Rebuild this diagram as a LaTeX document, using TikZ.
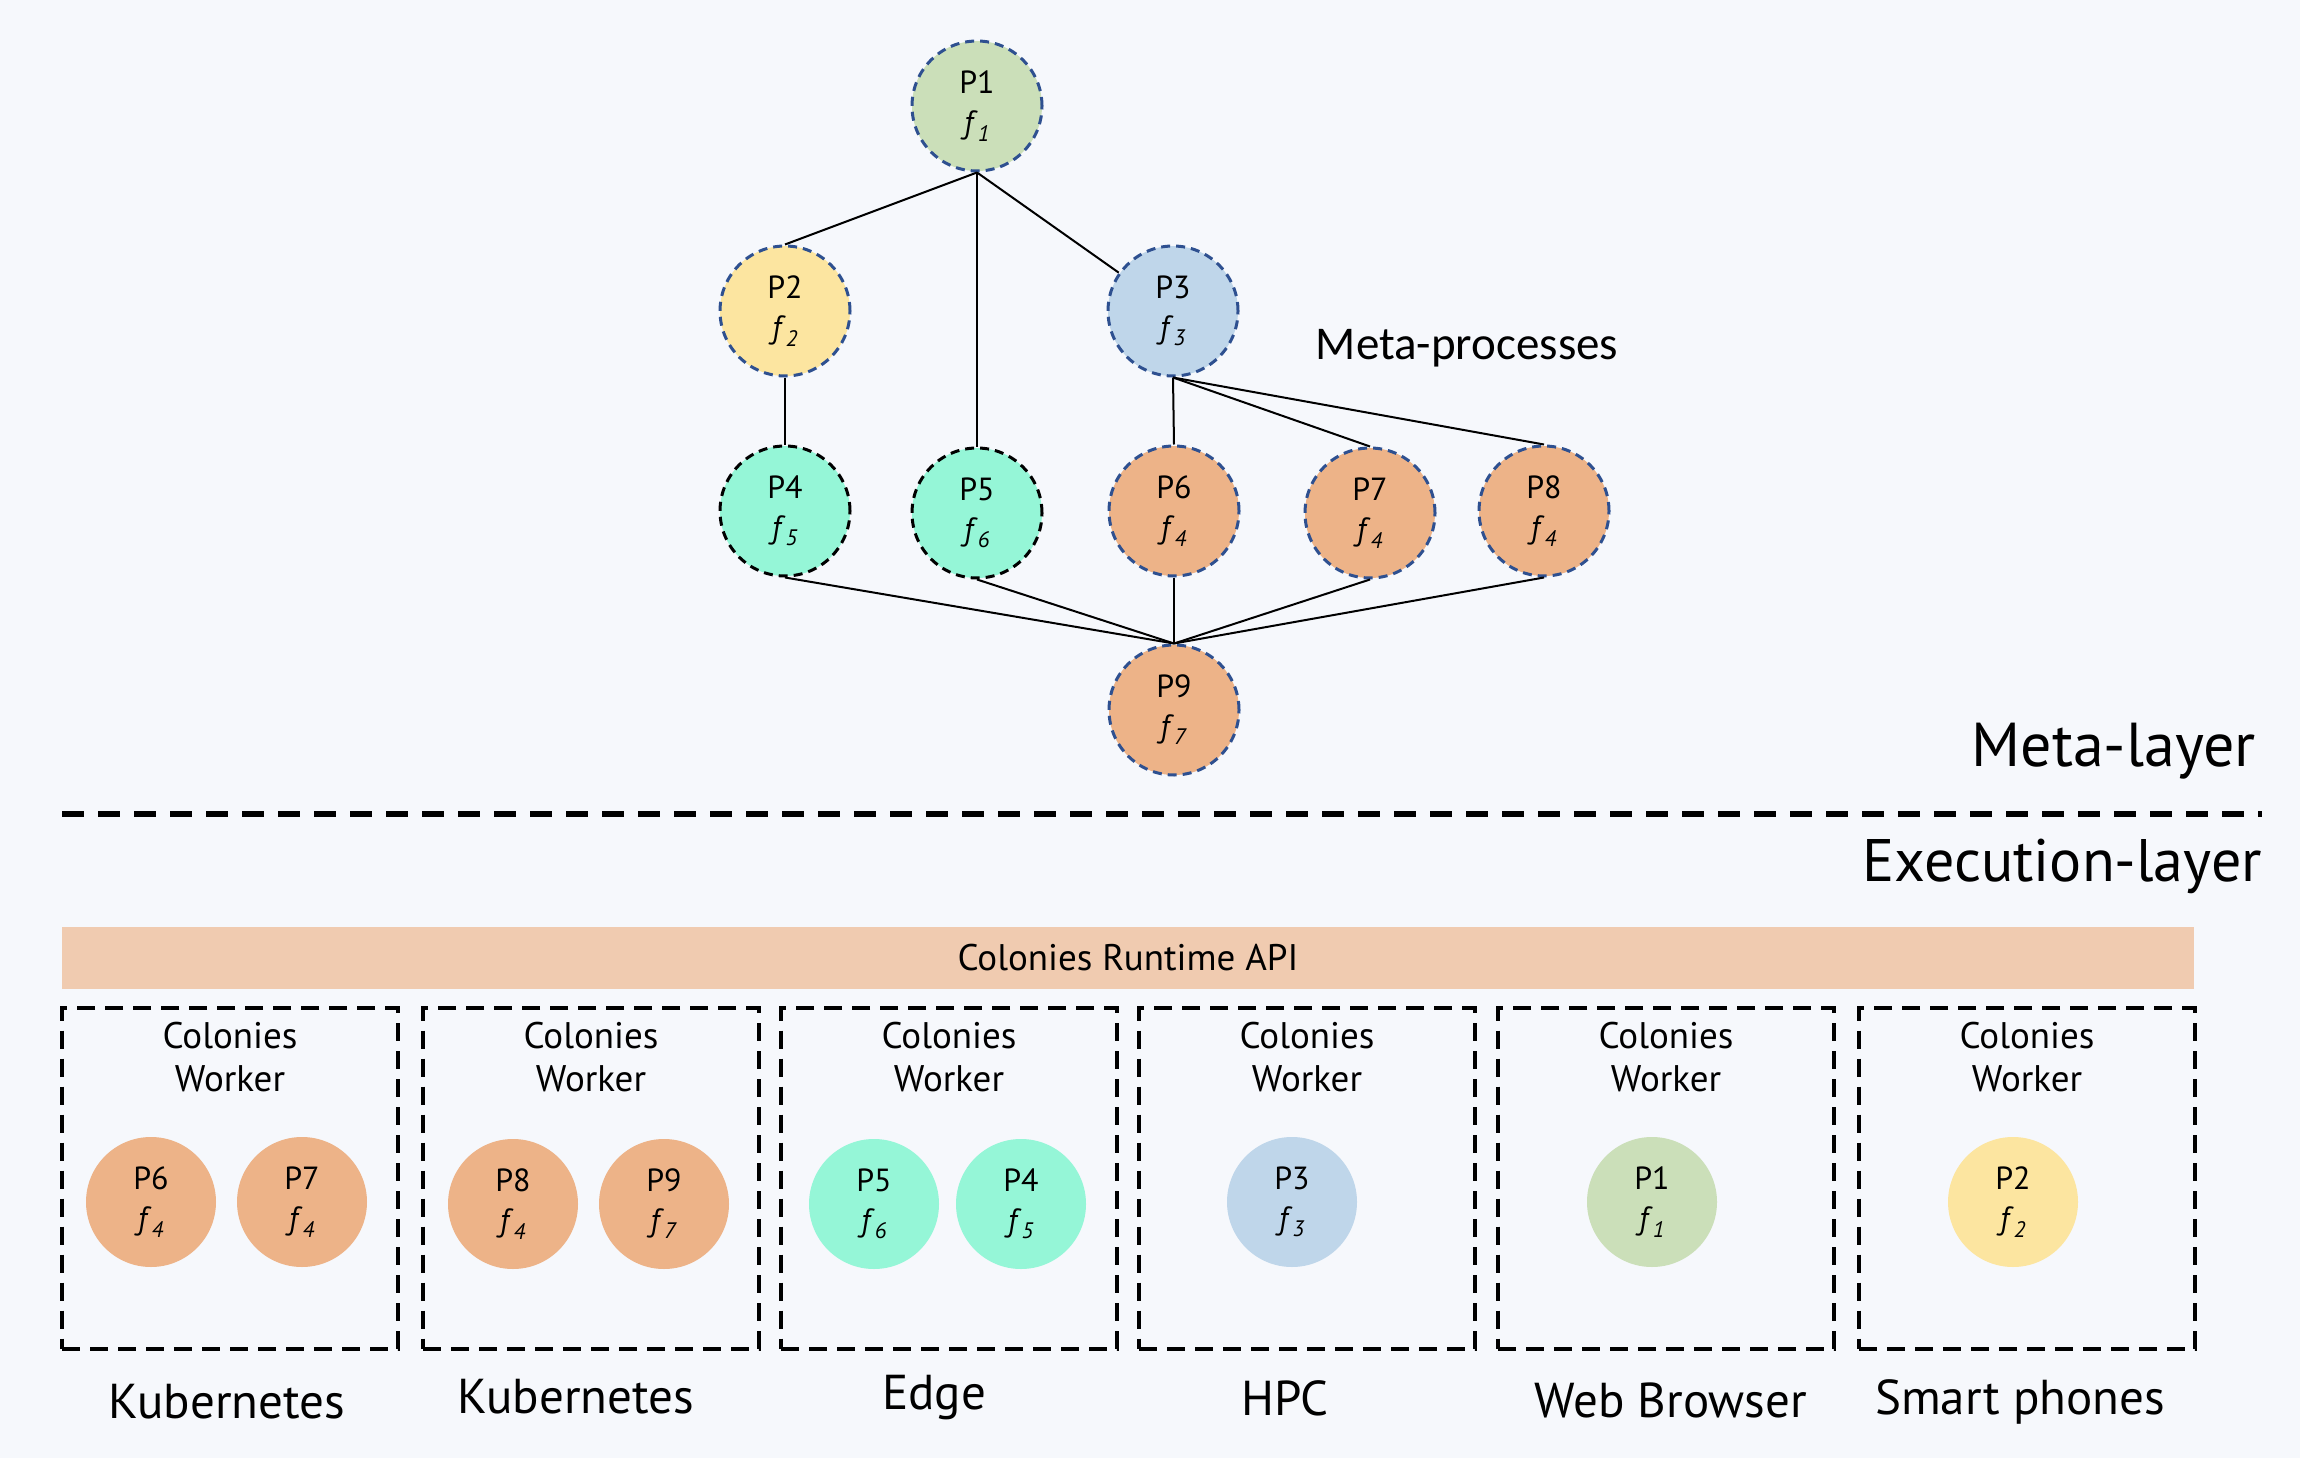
\documentclass[tikz,border=0pt]{standalone}
\usepackage{fontspec}
\setmainfont{PT Sans}
\newfontfamily\calib{Carlito}
\definecolor{bg}{HTML}{F6F8FC}
\definecolor{cgreen}{HTML}{CBDFB9}
\definecolor{cyellow}{HTML}{FCE5A0}
\definecolor{cblue}{HTML}{BFD6EA}
\definecolor{cmint}{HTML}{95F6D7}
\definecolor{corange}{HTML}{EDB388}
\definecolor{cbar}{HTML}{F0CBB0}
\definecolor{mblue}{HTML}{2E5090}
\newcommand{\fn}[1]{\textit{f}\textsubscript{\textit{#1}}}
\begin{document}
\begin{tikzpicture}[x=1pt,y=-1pt,
  meta/.style={circle, minimum size=130pt, inner sep=0pt, draw=mblue, line width=3pt,
    dash pattern=on 9pt off 6pt, align=center, font=\fontsize{32}{40}\selectfont},
  metak/.style={meta, draw=black},
  exec/.style={circle, minimum size=130pt, inner sep=0pt, align=center, font=\fontsize{32}{40}\selectfont},
  edge/.style={line width=2pt, black},
  wbox/.style={rectangle, minimum width=336pt, minimum height=341pt, inner sep=0pt, draw=black,
    line width=4pt, dash pattern=on 18pt off 10pt},
  wtitle/.style={align=center, font=\fontsize{37}{43}\selectfont, inner sep=0pt},
  plat/.style={font=\fontsize{49}{54}\selectfont, inner sep=0pt},
]
\fill[bg] (0,0) rectangle (2300,1458);
\useasboundingbox (0,0) rectangle (2300,1458);

% meta layer
\node[meta, fill=cgreen] (P1) at (977,106) {P1\\\fn{1}};
\node[meta, fill=cyellow] (P2) at (785,311) {P2\\\fn{2}};
\node[meta, fill=cblue] (P3) at (1173,311) {P3\\\fn{3}};
\node[metak, fill=cmint] (P4) at (785,511) {P4\\\fn{5}};
\node[metak, fill=cmint] (P5) at (977,513) {P5\\\fn{6}};
\node[meta, fill=corange] (P6) at (1174,511) {P6\\\fn{4}};
\node[meta, fill=corange] (P7) at (1370,513) {P7\\\fn{4}};
\node[meta, fill=corange] (P8) at (1544,511) {P8\\\fn{4}};
\node[meta, fill=corange] (P9) at (1174,710) {P9\\\fn{7}};

\draw[edge] (P1.south) -- (P2.north);
\draw[edge] (P1.south) -- (P5.north);
\draw[edge] (P1.south) -- (P3);
\draw[edge] (P2.south) -- (P4.north);
\draw[edge] (P3.south) -- (P6.north);
\draw[edge] (P3.south) -- (P7.north);
\draw[edge] (P3.south) -- (P8.north);
\foreach \n in {P4,P5,P6,P7,P8} \draw[edge] (\n.south) -- (P9.north);

\node[font=\calib\fontsize{47}{52}\selectfont, inner sep=0pt] (mp) at (1467,348) {Meta-processes};
\node[font=\fontsize{62}{66}\selectfont, anchor=east, inner sep=0pt] (ml) at (2256,751) {Meta-layer};
\coordinate (sepL) at (62,814);
\coordinate (sepR) at (2262,814);
\draw[line width=6pt, dash pattern=on 22pt off 14pt] (sepL) -- (sepR);
\node[font=\fontsize{60}{64}\selectfont, anchor=east, inner sep=0pt] (el) at (2262,866) {Execution-layer};

% execution layer
\node[rectangle, fill=cbar, minimum width=2132pt, minimum height=62pt, inner sep=0pt,
  font=\fontsize{37}{40}\selectfont] (api) at (1128,958) {Colonies Runtime API};

\node[wbox] (B1) at (230,1178) {};
\node[wbox] (B2) at (591,1178) {};
\node[wbox] (B3) at (949,1178) {};
\node[wbox] (B4) at (1307,1178) {};
\node[wbox] (B5) at (1666,1178) {};
\node[wbox] (B6) at (2027,1178) {};

\foreach \b/\x in {1/230,2/591,3/949,4/1307,5/1666,6/2027}
  \node[wtitle] (T\b) at (\x,1057) {Colonies\\Worker};

\node[exec, fill=corange] (E6) at (151,1202) {P6\\\fn{4}};
\node[exec, fill=corange] (E7) at (302,1202) {P7\\\fn{4}};
\node[exec, fill=corange] (E8) at (513,1204) {P8\\\fn{4}};
\node[exec, fill=corange] (E9) at (664,1204) {P9\\\fn{7}};
\node[exec, fill=cmint] (E5) at (874,1204) {P5\\\fn{6}};
\node[exec, fill=cmint] (E4) at (1021,1204) {P4\\\fn{5}};
\node[exec, fill=cblue] (E3) at (1292,1202) {P3\\\fn{3}};
\node[exec, fill=cgreen] (E1) at (1652,1202) {P1\\\fn{1}};
\node[exec, fill=cyellow] (E2) at (2013,1202) {P2\\\fn{2}};

\node[plat] (L1) at (227,1402) {Kubernetes};
\node[plat] (L2) at (576,1397) {Kubernetes};
\node[plat] (L3) at (934,1398) {Edge};
\node[plat] (L4) at (1285,1398) {HPC};
\node[plat] (L5) at (1671,1400) {Web Browser};
\node[plat] (L6) at (2020,1402) {Smart phones};
\end{tikzpicture}
\end{document}
